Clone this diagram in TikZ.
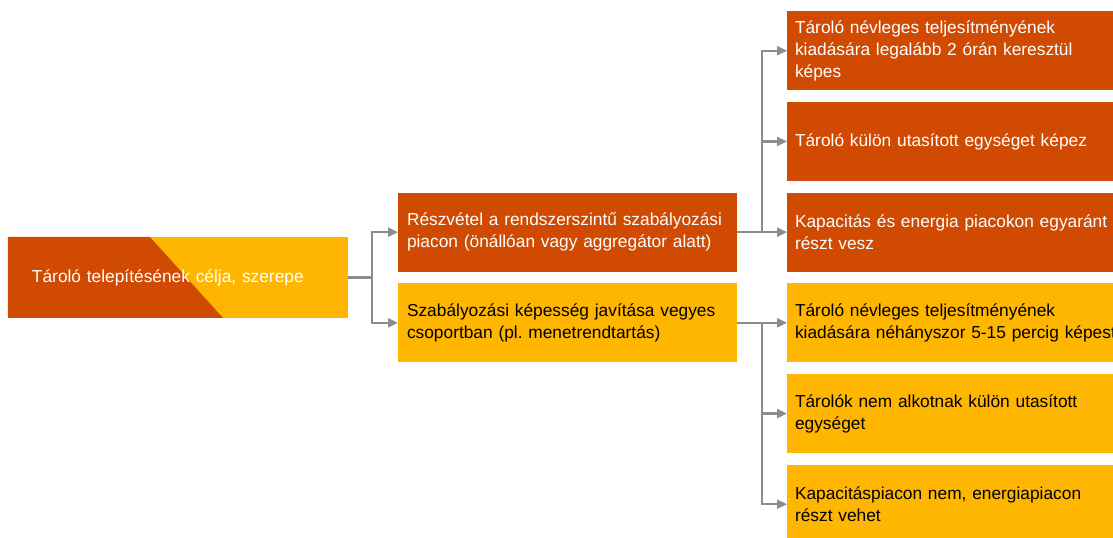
\documentclass[tikz,border=0pt]{standalone}
\usepackage{fontspec}
\setmainfont{Liberation Sans}
\usepackage{tikz}
\usepackage{xcolor}
\usetikzlibrary{positioning,arrows.meta}

\definecolor{pwcred}{HTML}{D04A02}
\definecolor{pwcyellow}{HTML}{FFB600}
\definecolor{linkgray}{HTML}{8C8C8C}
\frenchspacing

\begin{document}
\begin{tikzpicture}[x=1bp, y=-1bp, node distance=11.7bp and 50bp,
                >={Triangle[length=10bp,width=9bp]},
                font=\fontsize{17.4}{22}\selectfont,
                box/.style={rectangle, inner ysep=0pt, outer sep=0pt, minimum height=79bp, align=left},
                red box/.style={box, fill=pwcred, text=white},
                yellow box/.style={box, fill=pwcyellow, text=black},
                mid box/.style={text width=321bp, inner xsep=9bp},
                leaf box/.style={text width=340bp, inner xsep=8bp},
                link/.style={->, draw=linkgray, line width=2.2bp}]

  \useasboundingbox (0,0) rectangle (1113,538);
  \clip (0,0) rectangle (1113,538);

  \node[box, text=white, fill=pwcyellow, text width=292bp, inner xsep=24bp, minimum height=81bp,
        path picture={\fill[pwcred] (path picture bounding box.north west) -- ++(142,0)
          -- ([xshift=215bp]path picture bounding box.south west)
          -- (path picture bounding box.south west) -- cycle;}]
        (cel) at (178,277.5) {Tároló telepítésének célja, szerepe};

  \node[red box, mid box, above right=5.85bp and 50bp of cel.east] (piac)
        {Részvétel a rendszerszintű szabályozási\\piacon (önállóan vagy aggregátor alatt)};
  \node[yellow box, mid box, below right=5.85bp and 50bp of cel.east] (csop)
        {Szabályozási képesség javítása vegyes\\csoportban (pl. menetrendtartás)};

  \node[red box, leaf box, right=of piac] (p3) {Kapacitás és energia piacokon egyaránt\\részt vesz};
  \node[red box, leaf box, above=of p3] (p2) {Tároló külön utasított egységet képez};
  \node[red box, leaf box, above=of p2] (p1)
        {Tároló névleges teljesítményének\\kiadására legalább 2 órán keresztül\\képes};

  \node[yellow box, leaf box, right=of csop] (c1)
        {Tároló névleges teljesítményének\\kiadására néhányszor 5-15 percig képest};
  \node[yellow box, leaf box, below=of c1] (c2) {Tárolók nem alkotnak külön utasított\\egységet};
  \node[yellow box, leaf box, below=of c2] (c3) {Kapacitáspiacon nem, energiapiacon\\részt vehet};

  \draw[link] (cel.east) -- ++(24,0) |- (piac.west);
  \draw[link] (cel.east) -- ++(24,0) |- (csop.west);
  \foreach \n in {p1,p2,p3}
    \draw[link] (piac.east) -- ++(25,0) |- (\n.west);
  \foreach \n in {c1,c2,c3}
    \draw[link] (csop.east) -- ++(25,0) |- (\n.west);
\end{tikzpicture}
\end{document}
